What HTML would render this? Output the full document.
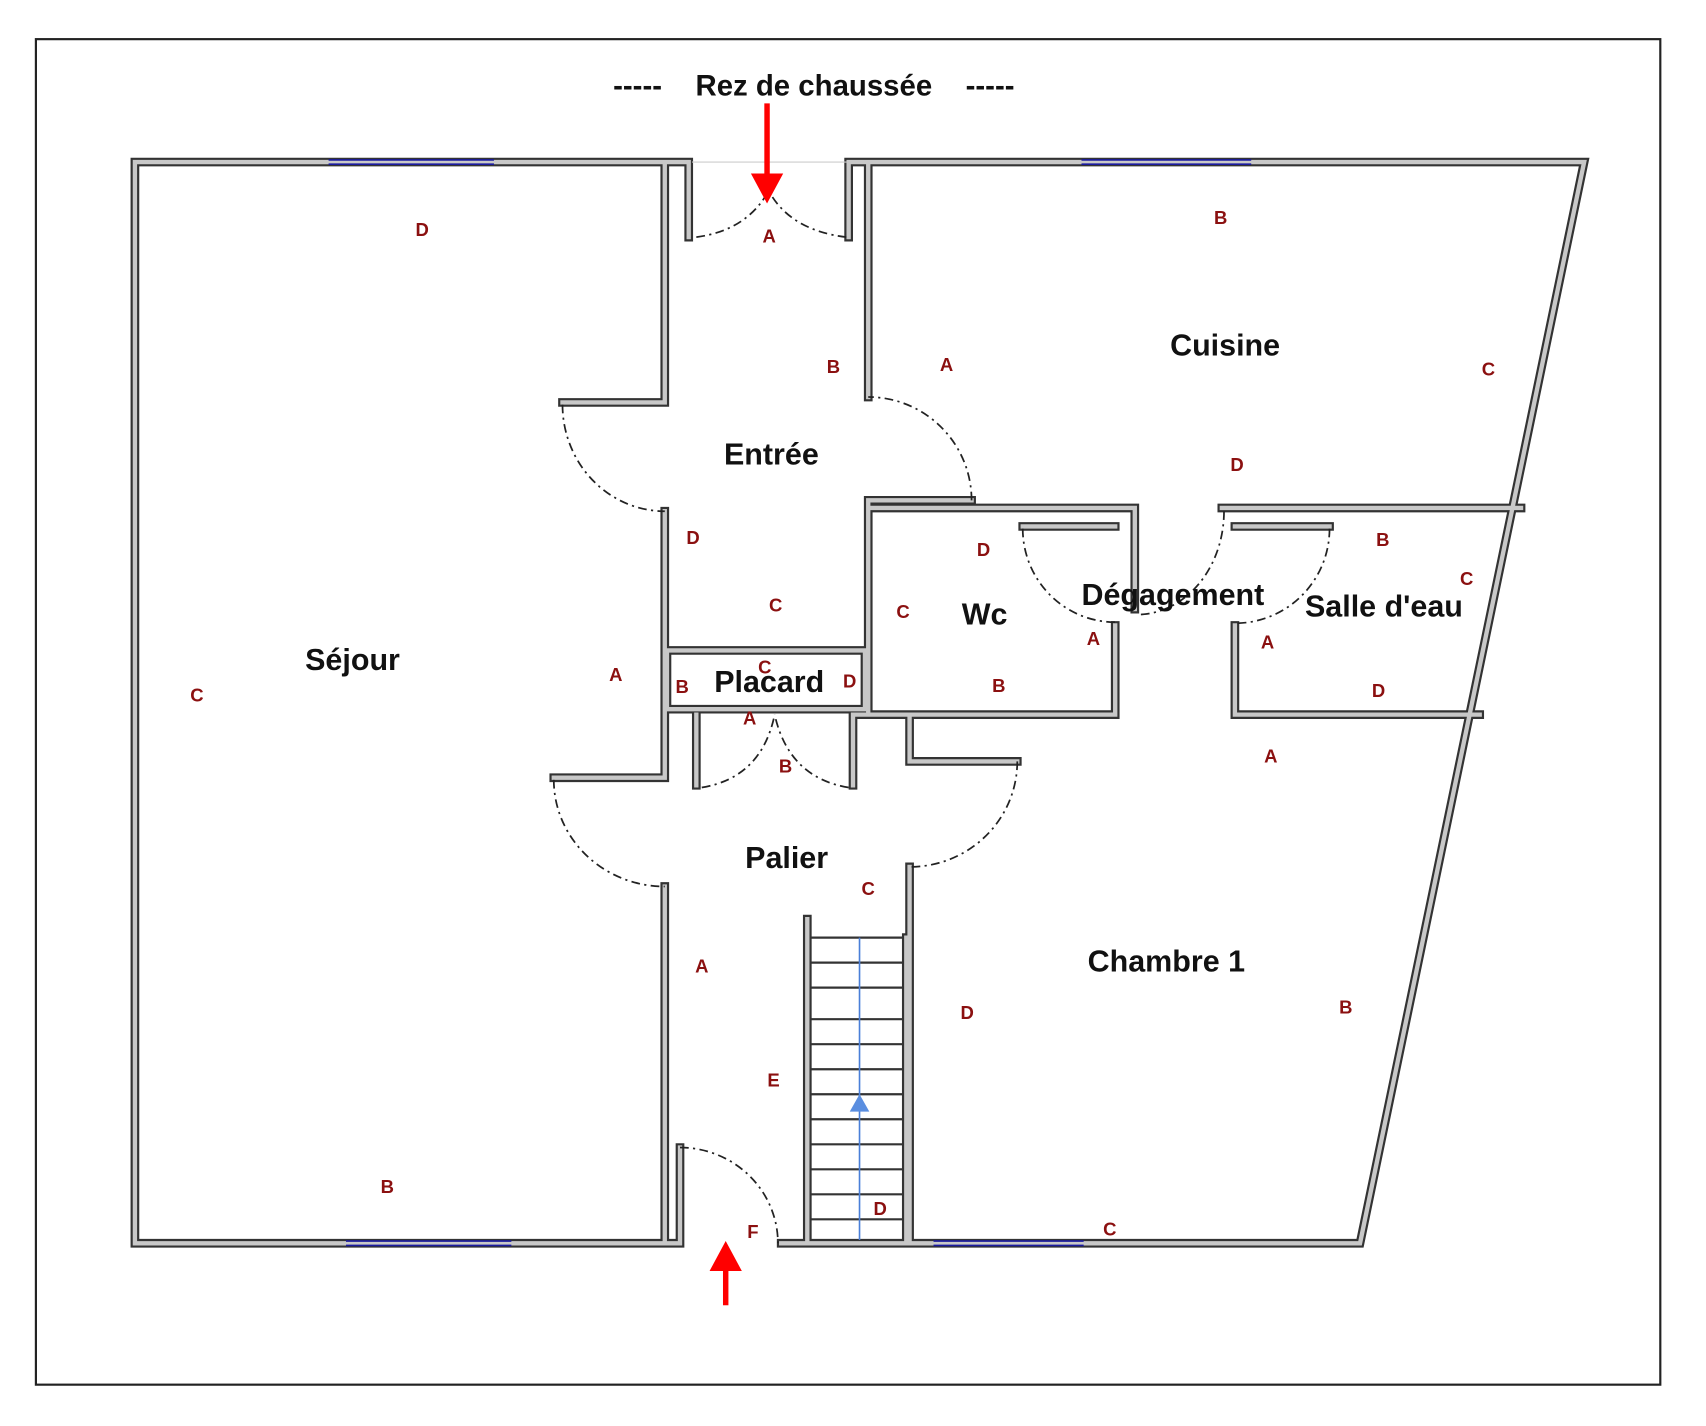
<!DOCTYPE html>
<html><head><meta charset="utf-8"><style>
html,body{margin:0;padding:0;background:#fff;}
svg{display:block;}
.w{fill:none;stroke:#333;stroke-width:8;stroke-linecap:square;}
.wi{fill:none;stroke:#c8c8c8;stroke-width:4;stroke-linecap:square;}
.d{fill:none;stroke:#222;stroke-width:1.6;stroke-dasharray:8 4 2 4;}
.l{font-family:"Liberation Sans",sans-serif;font-weight:bold;font-size:17px;fill:#8b1010;text-anchor:middle;}
.r{font-family:"Liberation Sans",sans-serif;font-weight:bold;font-size:28px;fill:#111;text-anchor:middle;}
</style></head><body>
<svg width="1706" height="1426" viewBox="0 0 1568 1311" preserveAspectRatio="none" xmlns="http://www.w3.org/2000/svg">
<defs>
<path id="walls" d="M633 149 H124 V1143 H625 M611 152 V370 M611 470 V715 M611 815 V1143 M517 370 H611 M509 715 H611 M633 149 V218 M780 149 V218 M780 149 H1456 L1250 1143 H718 M798 149 V365 M798 460 V655 M798 460 H893 M798 467 H1043 M1025 575 V657 M785 657 H1025 M613 598 H795 V652 H613 Z M1123 467 H1398 M1135 575 V657 H1360 M611 652 V715 M640 657 V722 M784 657 V722 M836 657 V700 M836 700 H935 M836 797 V1143 M742 845 V1143 M833 862 V1143 M625 1055 V1143 M940 484 H1025 M1135 484 H1222 M1043 467 V560"/>
</defs>
<rect x="33" y="36" width="1493" height="1237" fill="#fff" stroke="#222" stroke-width="2"/>
<text x="586" y="88" class="r" style="font-size:27px">-----</text>
<text x="748" y="88" class="r" style="font-size:27px">Rez de chaussée</text>
<text x="910" y="88" class="r" style="font-size:27px">-----</text>
<use href="#walls" class="w"/>
<use href="#walls" class="wi"/>
<g stroke="#1a1aa0" stroke-width="1.5">
<line x1="302" y1="147" x2="454" y2="147"/><line x1="302" y1="151" x2="454" y2="151"/>
<line x1="994" y1="147" x2="1150" y2="147"/><line x1="994" y1="151" x2="1150" y2="151"/>
<line x1="318" y1="1141" x2="470" y2="1141"/><line x1="318" y1="1145" x2="470" y2="1145"/>
<line x1="858" y1="1141" x2="996" y2="1141"/><line x1="858" y1="1145" x2="996" y2="1145"/>
</g>
<line x1="636" y1="149" x2="778" y2="149" stroke="#ccc" stroke-width="1"/>
<g stroke="#333" stroke-width="2">
<line x1="745" y1="862" x2="830" y2="862"/><line x1="745" y1="885" x2="830" y2="885"/><line x1="745" y1="908" x2="830" y2="908"/><line x1="745" y1="937" x2="830" y2="937"/><line x1="745" y1="960" x2="830" y2="960"/><line x1="745" y1="983" x2="830" y2="983"/><line x1="745" y1="1006" x2="830" y2="1006"/><line x1="745" y1="1029" x2="830" y2="1029"/><line x1="745" y1="1052" x2="830" y2="1052"/><line x1="745" y1="1075" x2="830" y2="1075"/><line x1="745" y1="1098" x2="830" y2="1098"/><line x1="745" y1="1121" x2="830" y2="1121"/>
</g>
<line x1="790" y1="862" x2="790" y2="1140" stroke="#4a7fd8" stroke-width="1.5"/>
<polygon points="790,1006 781,1022 799,1022" fill="#5a8ee0"/>
<g class="d">
<path d="M640 218 Q685 212 705 178"/><path d="M778 218 Q728 212 708 178"/>
<path d="M517 372 A94 98 0 0 0 611 470"/>
<path d="M509 717 A102 98 0 0 0 611 815"/>
<path d="M893 460 A95 95 0 0 0 798 365"/>
<path d="M935 700 A99 97 0 0 1 836 797"/>
<path d="M940 486 A85 86 0 0 0 1025 572"/>
<path d="M1222 486 A87 87 0 0 1 1135 573"/>
<path d="M1125 470 A80 95 0 0 1 1045 565"/>
<path d="M645 724 Q700 715 712 657"/><path d="M780 724 Q725 715 712 657"/>
<path d="M625 1055 A90 88 0 0 1 715 1143"/>
</g>
<g fill="#f00" stroke="#f00">
<line x1="705" y1="95" x2="705" y2="160" stroke-width="5"/><polygon points="691,160 719,160 705,186"/>
<line x1="667" y1="1200" x2="667" y2="1165" stroke-width="5"/><polygon points="653,1168 681,1168 667,1142"/>
</g>
<text x="324" y="616" class="r">Séjour</text>
<text x="709" y="427" class="r">Entrée</text>
<text x="1126" y="327" class="r">Cuisine</text>
<text x="905" y="574" class="r">Wc</text>
<text x="1078" y="556" class="r">Dégagement</text>
<text x="1272" y="567" class="r">Salle d'eau</text>
<text x="707" y="636" class="r">Placard</text>
<text x="723" y="798" class="r">Palier</text>
<text x="1072" y="893" class="r">Chambre 1</text>
<g class="l">
<text x="388" y="217">D</text><text x="707" y="223">A</text><text x="1122" y="206">B</text>
<text x="766" y="343">B</text><text x="870" y="341">A</text><text x="1368" y="345">C</text><text x="1137" y="433">D</text>
<text x="637" y="500">D</text><text x="904" y="511">D</text><text x="1271" y="502">B</text><text x="1348" y="538">C</text>
<text x="713" y="562">C</text><text x="830" y="568">C</text><text x="1005" y="593">A</text><text x="1165" y="596">A</text>
<text x="566" y="626">A</text><text x="181" y="645">C</text><text x="703" y="619">C</text><text x="627" y="637">B</text><text x="781" y="632">D</text>
<text x="918" y="636">B</text><text x="1267" y="641">D</text><text x="689" y="666">A</text><text x="722" y="710">B</text><text x="1168" y="701">A</text>
<text x="798" y="823">C</text><text x="645" y="894">A</text><text x="889" y="937">D</text><text x="1237" y="932">B</text>
<text x="711" y="999">E</text><text x="356" y="1097">B</text><text x="809" y="1117">D</text><text x="692" y="1138">F</text><text x="1020" y="1136">C</text>
</g>
</svg>
</body></html>
